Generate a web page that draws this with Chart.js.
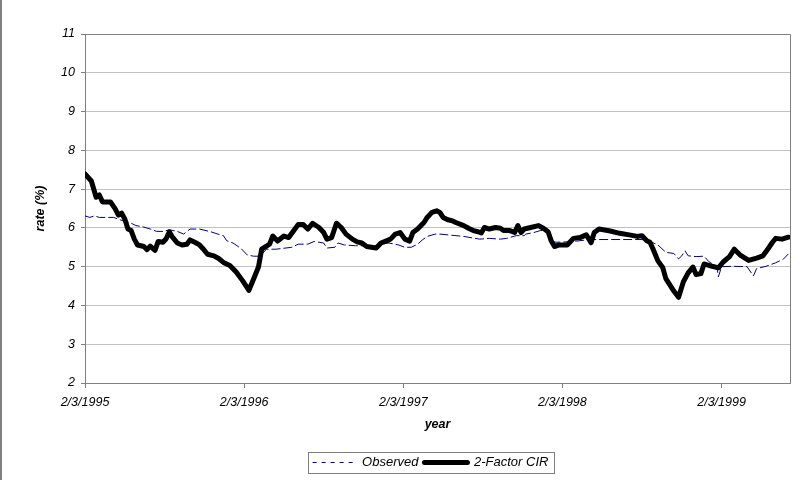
<!DOCTYPE html>
<html>
<head>
<meta charset="utf-8">
<script src="https://cdn.jsdelivr.net/npm/chart.js@4/dist/chart.umd.min.js"></script>
<style>
  html, body { margin: 0; padding: 0; background: #fff; }
</style>
</head>
<body>
<canvas id="rateChart" width="807" height="480"></canvas>
<script>
// Tick labels (one per year, x = years since 2/3/1995)
const yearTicks = ['2/3/1995', '2/3/1996', '2/3/1997', '2/3/1998', '2/3/1999'];

// Observed rate (%)
const observedYears = [0, 0.03, 0.06, 0.09, 0.18, 0.24, 0.28, 0.32, 0.37, 0.41, 0.45, 0.49, 0.53, 0.58, 0.62, 0.66,
    0.72, 0.79, 0.85, 0.87, 0.89, 0.93, 0.98, 1.02, 1.06, 1.10, 1.14, 1.20, 1.30, 1.34, 1.40, 1.44, 1.50, 1.52,
    1.57, 1.59, 1.63, 1.70, 1.76, 1.82, 1.86, 1.91, 1.97, 2.01, 2.05, 2.09, 2.12, 2.15, 2.20, 2.23, 2.38, 2.48,
    2.54, 2.61, 2.65, 2.71, 2.76, 2.77, 2.82, 2.86, 2.89, 2.91, 2.93, 2.96, 3.03, 3.09, 3.17, 3.50, 3.55, 3.60,
    3.65, 3.70, 3.73, 3.75, 3.77, 3.79, 3.84, 3.89, 3.92, 3.97, 3.98, 4.00, 4.07, 4.16, 4.20, 4.22, 4.28, 4.34,
    4.39, 4.42];
const observedRate = [6.31, 6.27, 6.31, 6.27, 6.27, 6.18, 6.14, 6.06, 6.02, 5.97, 5.91, 5.91, 5.95, 5.91, 5.84, 5.97,
    5.97, 5.90, 5.82, 5.80, 5.67, 5.61, 5.47, 5.30, 5.27, 5.27, 5.45, 5.45, 5.50, 5.58, 5.58, 5.65, 5.61, 5.48,
    5.50, 5.61, 5.56, 5.54, 5.54, 5.50, 5.58, 5.61, 5.56, 5.50, 5.50, 5.58, 5.69, 5.78, 5.84, 5.84, 5.78, 5.71,
    5.73, 5.71, 5.73, 5.80, 5.80, 5.84, 5.88, 5.93, 5.93, 5.84, 5.66, 5.63, 5.64, 5.66, 5.70, 5.70, 5.65, 5.56,
    5.37, 5.34, 5.20, 5.28, 5.41, 5.28, 5.26, 5.27, 5.13, 5.00, 4.74, 5.00, 5.01, 5.00, 4.76, 4.95, 5.01, 5.10,
    5.20, 5.33];

// 2-Factor CIR model rate (%)
const cirYears = [0, 0.04, 0.07, 0.09, 0.11, 0.16, 0.19, 0.21, 0.23, 0.25, 0.27, 0.29, 0.31, 0.33, 0.37, 0.39,
    0.41, 0.44, 0.46, 0.49, 0.51, 0.53, 0.55, 0.58, 0.61, 0.64, 0.66, 0.69, 0.72, 0.74, 0.77, 0.81, 0.84, 0.87,
    0.91, 0.95, 0.99, 1.03, 1.06, 1.09, 1.11, 1.14, 1.16, 1.18, 1.21, 1.25, 1.28, 1.31, 1.34, 1.37, 1.40, 1.43,
    1.47, 1.50, 1.52, 1.55, 1.58, 1.61, 1.64, 1.68, 1.71, 1.74, 1.77, 1.80, 1.83, 1.86, 1.89, 1.92, 1.95, 1.98,
    2.01, 2.04, 2.06, 2.09, 2.13, 2.15, 2.18, 2.21, 2.23, 2.25, 2.28, 2.31, 2.33, 2.38, 2.41, 2.44, 2.47, 2.49,
    2.51, 2.54, 2.58, 2.61, 2.63, 2.67, 2.70, 2.72, 2.74, 2.76, 2.80, 2.85, 2.88, 2.91, 2.93, 2.95, 2.98, 3.03,
    3.07, 3.11, 3.15, 3.18, 3.20, 3.23, 3.30, 3.36, 3.42, 3.47, 3.50, 3.53, 3.55, 3.57, 3.60, 3.63, 3.65, 3.70,
    3.73, 3.76, 3.79, 3.82, 3.84, 3.87, 3.89, 3.94, 3.98, 4.01, 4.05, 4.08, 4.12, 4.17, 4.22, 4.26, 4.29, 4.32,
    4.34, 4.38, 4.42];
const cirRate = [7.39, 7.21, 6.79, 6.85, 6.67, 6.67, 6.49, 6.33, 6.38, 6.23, 5.97, 5.93, 5.71, 5.56, 5.52, 5.44,
    5.53, 5.42, 5.65, 5.63, 5.72, 5.90, 5.76, 5.61, 5.56, 5.58, 5.69, 5.63, 5.56, 5.47, 5.32, 5.28, 5.21, 5.11,
    5.03, 4.86, 4.64, 4.39, 4.69, 4.99, 5.45, 5.53, 5.58, 5.79, 5.66, 5.79, 5.75, 5.92, 6.09, 6.09, 5.97, 6.12,
    6.01, 5.88, 5.71, 5.75, 6.12, 6.01, 5.84, 5.71, 5.64, 5.61, 5.52, 5.50, 5.48, 5.61, 5.66, 5.71, 5.84, 5.88,
    5.71, 5.66, 5.88, 5.97, 6.14, 6.27, 6.40, 6.44, 6.40, 6.27, 6.21, 6.18, 6.14, 6.06, 5.99, 5.93, 5.90, 5.87,
    6.01, 5.97, 6.01, 5.99, 5.93, 5.93, 5.88, 6.06, 5.88, 5.97, 6.01, 6.06, 5.99, 5.90, 5.66, 5.52, 5.56, 5.56,
    5.73, 5.75, 5.82, 5.62, 5.88, 5.97, 5.92, 5.86, 5.82, 5.78, 5.80, 5.67, 5.63, 5.45, 5.15, 4.98, 4.69, 4.37,
    4.21, 4.61, 4.84, 4.99, 4.80, 4.82, 5.07, 5.01, 4.97, 5.12, 5.26, 5.45, 5.29, 5.16, 5.22, 5.28, 5.45, 5.63,
    5.73, 5.71, 5.76];

const fontFamily = "'Liberation Sans', Arial, sans-serif";
const toPoints = (xs, ys) => xs.map((x, i) => ({ x: x, y: ys[i] }));

// Excel-like frames: outer left edge, plot-area box, legend box
const framePlugin = {
    id: 'frames',
    afterLayout: (chart) => {
        // nudge the legend a little left, Excel centres it there
        chart.legend.left -= 14;
    },
    afterDraw: (chart) => {
        const ctx = chart.ctx;
        const area = chart.chartArea;
        ctx.save();
        ctx.fillStyle = '#808080';
        ctx.fillRect(0, 0, 2, chart.height);

        ctx.strokeStyle = '#808080';
        ctx.lineWidth = 1;
        ctx.beginPath();
        ctx.moveTo(Math.round(area.left) + 0.5, Math.round(area.top) + 0.5);
        ctx.lineTo(Math.round(area.right) + 0.5, Math.round(area.top) + 0.5);
        ctx.lineTo(Math.round(area.right) + 0.5, Math.round(area.bottom) + 0.5);
        ctx.stroke();

        const boxes = chart.legend.legendHitBoxes;
        if (boxes && boxes.length) {
            const left = Math.min(...boxes.map(b => b.left)) - 5;
            const right = Math.max(...boxes.map(b => b.left + b.width)) + 5;
            const top = Math.min(...boxes.map(b => b.top)) - 4;
            const bottom = Math.max(...boxes.map(b => b.top + b.height)) + 4;
            ctx.strokeStyle = '#7f7f7f';
            ctx.strokeRect(Math.round(left) + 0.5, Math.round(top) + 0.5,
                Math.round(right - left), Math.round(bottom - top));
        }
        ctx.restore();
    }
};

new Chart(document.getElementById('rateChart').getContext('2d'), {
    type: 'line',
    data: {
        datasets: [{
            label: 'Observed',
            data: toPoints(observedYears, observedRate),
            borderColor: '#000080',
            borderWidth: 1,
            borderDash: [9, 3],
            pointRadius: 0,
            tension: 0,
            order: 1
        }, {
            label: '2-Factor CIR',
            data: toPoints(cirYears, cirRate),
            borderColor: '#000000',
            borderWidth: 5,
            borderJoinStyle: 'round',
            borderCapStyle: 'round',
            pointRadius: 0,
            tension: 0,
            order: 0
        }]
    },
    options: {
        responsive: false,
        animation: false,
        devicePixelRatio: 1,
        layout: {
            padding: { left: 0, right: 17, top: 34, bottom: 1 }
        },
        plugins: {
            tooltip: { enabled: false },
            legend: {
                position: 'bottom',
                fullSize: false,
                labels: {
                    usePointStyle: true,
                    pointStyleWidth: 43,
                    padding: 6,
                    color: '#000',
                    font: { family: fontFamily, size: 13, style: 'italic' },
                    generateLabels: () => [{
                        text: 'Observed',
                        datasetIndex: 0,
                        pointStyle: 'line',
                        strokeStyle: '#000080',
                        fillStyle: '#000080',
                        lineWidth: 1,
                        lineDash: [4, 5],
                        fontColor: '#000'
                    }, {
                        text: '2-Factor CIR',
                        datasetIndex: 1,
                        pointStyle: 'line',
                        strokeStyle: '#000',
                        fillStyle: '#000',
                        lineWidth: 5,
                        lineDash: [],
                        lineCap: 'round',
                        fontColor: '#000'
                    }]
                }
            }
        },
        scales: {
            x: {
                type: 'linear',
                min: 0,
                max: 4.43,
                afterBuildTicks: (scale) => {
                    scale.ticks = yearTicks.map((_, i) => ({ value: i }));
                },
                afterFit: (scale) => { scale.height = 67; },
                ticks: {
                    autoSkip: false,
                    maxRotation: 0,
                    padding: 7,
                    color: '#000',
                    font: { family: fontFamily, size: 12.5, style: 'italic' },
                    callback: (value) => yearTicks[Math.round(value)]
                },
                grid: {
                    drawOnChartArea: false,
                    drawTicks: true,
                    tickLength: 5,
                    tickColor: '#808080'
                },
                border: { color: '#808080', width: 1 },
                title: {
                    display: true,
                    text: 'year',
                    color: '#000',
                    padding: { top: 0, bottom: 18 },
                    font: { family: fontFamily, size: 12.5, style: 'italic', weight: 'bold' }
                }
            },
            y: {
                min: 2,
                max: 11,
                afterFit: (scale) => { scale.width = 85; },
                ticks: {
                    stepSize: 1,
                    padding: 6,
                    color: '#000',
                    font: { family: fontFamily, size: 12.5, style: 'italic' }
                },
                grid: {
                    color: '#c0c0c0',
                    tickColor: '#808080',
                    tickLength: 4
                },
                border: { color: '#808080', width: 1 },
                title: {
                    display: true,
                    text: 'rate (%)',
                    color: '#000',
                    padding: { top: 33, bottom: 0 },
                    font: { family: fontFamily, size: 12.5, style: 'italic', weight: 'bold' }
                }
            }
        }
    },
    plugins: [framePlugin]
});
</script>
</body>
</html>
